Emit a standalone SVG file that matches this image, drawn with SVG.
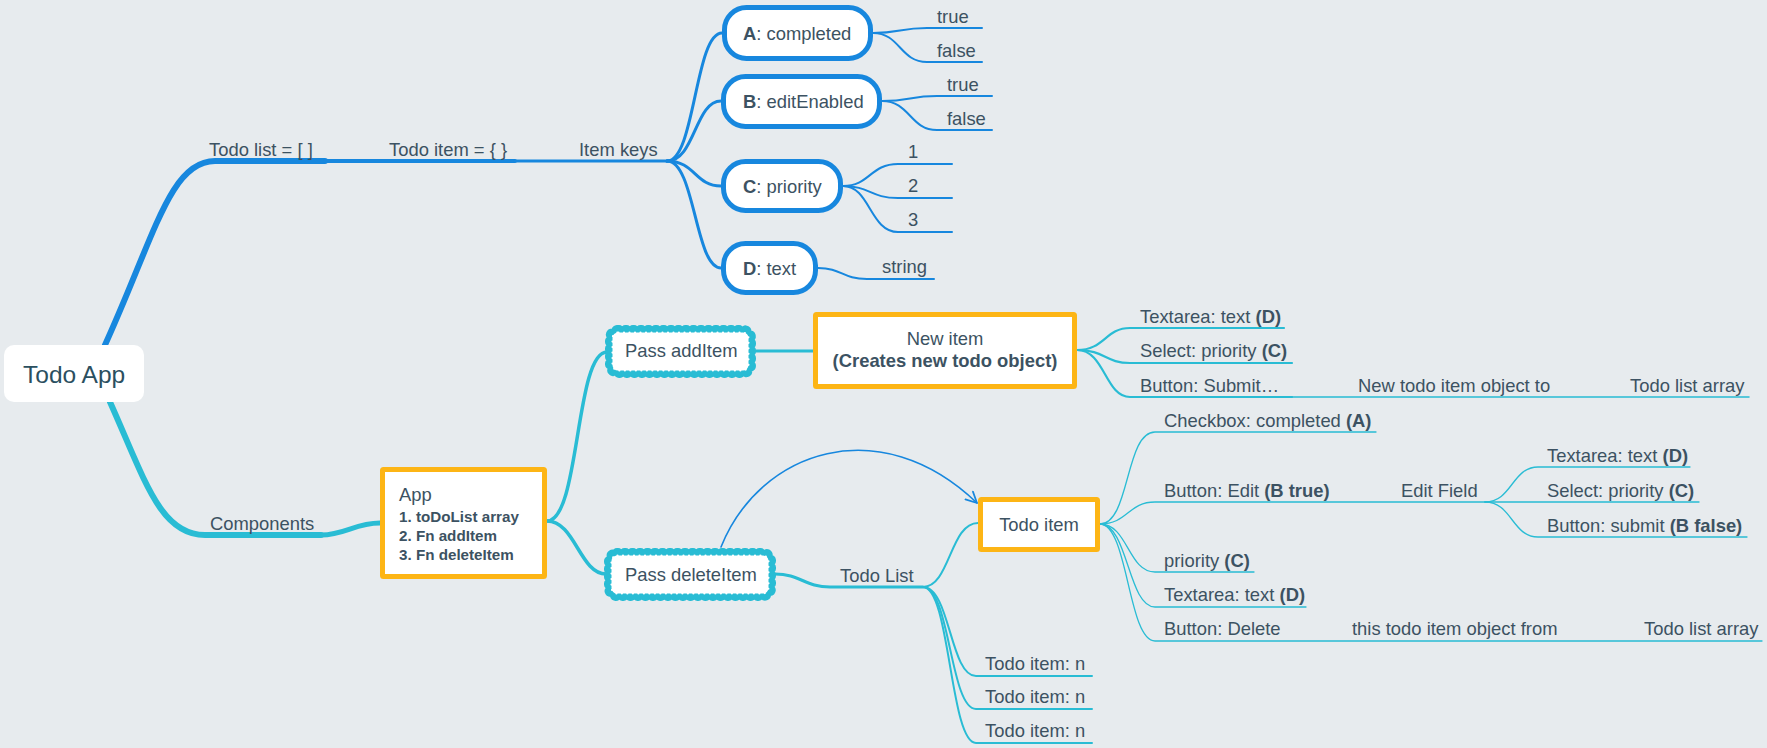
<svg xmlns="http://www.w3.org/2000/svg" width="1767" height="748" viewBox="0 0 1767 748">
<defs>
<style>
  text { font-family: "Liberation Sans", Arial, sans-serif; fill: #3c5262; font-size: 18.4px; }
  .b { font-weight: bold; }
  .root-label { font-size: 24.5px; fill: #2b4f5f; }
  .small { font-size: 15.2px; }
  .mid { text-anchor: middle; }
  .blue { fill: none; stroke: #1787de; stroke-linecap: round; }
  .teal { fill: none; stroke: #29bcd4; stroke-linecap: round; }
  .pill { fill: #ffffff; stroke: #1787de; stroke-width: 5; }
  .box { fill: #ffffff; stroke: #fdb515; stroke-width: 5; }
  .cloud-bump { fill: none; stroke: #29bcd4; stroke-width: 10; stroke-dasharray: 1 6.5; stroke-linecap: round; }
  .cloud { fill: #ffffff; stroke: #29bcd4; stroke-width: 5; }
  .cloud-nick { fill: none; stroke: #ffffff; stroke-width: 2.2; stroke-dasharray: 0 5.5; stroke-linecap: round; }
</style>
<marker id="open-arrow" viewBox="0 0 12 12" refX="11" refY="6" markerWidth="13" markerHeight="13" markerUnits="userSpaceOnUse" orient="auto">
  <path d="M1,1 L11,6 L1,11" fill="none" stroke="#1787de" stroke-width="1.6" stroke-linecap="round" stroke-linejoin="round"/>
</marker>
</defs>

<rect x="0" y="0" width="1767" height="748" fill="#e7ebee"/>

<g id="connectors">
  <!-- data model branch -->
  <path class="blue" stroke-width="6" d="M105,345 C155,235 170,161 215,161 L325,161"/>
  <path class="blue" stroke-width="4" d="M325,161 L515,161"/>
  <path class="blue" stroke-width="3" d="M515,161 L667,161"/>
  <path class="blue" stroke-width="3" d="M667,161 C695,161 695,33 722,33"/>
  <path class="blue" stroke-width="3" d="M667,161 C695,161 695,101 721,101"/>
  <path class="blue" stroke-width="3" d="M667,161 C695,161 695,186 721,186"/>
  <path class="blue" stroke-width="3" d="M667,161 C695,161 695,268 721,268"/>
  <path class="blue" stroke-width="2" d="M873,33 C900,33 900,28 927,28 L982,28"/>
  <path class="blue" stroke-width="2" d="M873,33 C900,33 900,62 927,62 L982,62"/>
  <path class="blue" stroke-width="2" d="M882,101 C910,101 910,96 937,96 L992,96"/>
  <path class="blue" stroke-width="2" d="M882,101 C910,101 910,130 937,130 L992,130"/>
  <path class="blue" stroke-width="2" d="M843,186 C870,186 870,164 898,164 L952,164"/>
  <path class="blue" stroke-width="2" d="M843,186 C870,186 870,198 898,198 L952,198"/>
  <path class="blue" stroke-width="2" d="M843,186 C870,186 870,232 898,232 L952,232"/>
  <path class="blue" stroke-width="2" d="M818,268 C842,268 842,279 867,279 L934,279"/>

  <!-- components branch -->
  <path class="teal" stroke-width="6" d="M110,402 C145,480 160,535 205,535 L321,535"/>
  <path class="teal" stroke-width="5" d="M321,535 C345,535 355,523 380,523"/>
  <path class="teal" stroke-width="3.5" d="M547,521 C580,521 575,352 607,352"/>
  <path class="teal" stroke-width="3.5" d="M547,521 C575,521 580,574 606,574"/>
  <path class="teal" stroke-width="3" d="M755,351 L813,351"/>
  <path class="teal" stroke-width="3" d="M775,574 C800,574 805,587 830,587 L923,587"/>
  <path class="teal" stroke-width="2" d="M923,587 C950,587 950,523 978,523"/>
  <path class="teal" stroke-width="2" d="M923,587 C950,587 950,676 976,676 L1092,676"/>
  <path class="teal" stroke-width="2" d="M923,587 C950,587 950,709 976,709 L1092,709"/>
  <path class="teal" stroke-width="2" d="M923,587 C950,587 950,743 976,743 L1092,743"/>

  <!-- new item fields -->
  <path class="teal" stroke-width="2.2" d="M1077,350 C1105,350 1105,328 1130,328 L1284,328"/>
  <path class="teal" stroke-width="2.2" d="M1077,350 C1105,350 1105,363 1130,363 L1292,363"/>
  <path class="teal" stroke-width="2.2" d="M1077,350 C1105,350 1105,397 1130,397 L1292,397"/>
  <path class="teal" stroke-width="1.5" d="M1292,397 L1749,397"/>

  <!-- todo item fields -->
  <path class="teal" stroke-width="1.3" d="M1100,524 C1130,524 1125,432 1155,432 L1376,432"/>
  <path class="teal" stroke-width="1.3" d="M1100,524 C1128,524 1128,502 1155,502 L1485,502"/>
  <path class="teal" stroke-width="1.3" d="M1100,524 C1128,524 1128,572 1155,572 L1254,572"/>
  <path class="teal" stroke-width="1.3" d="M1100,524 C1128,524 1128,607 1155,607 L1306,607"/>
  <path class="teal" stroke-width="1.3" d="M1100,524 C1128,524 1128,641 1155,641 L1762,641"/>
  <path class="teal" stroke-width="1.3" d="M1485,502 C1512,502 1512,467 1538,467 L1690,467"/>
  <path class="teal" stroke-width="1.3" d="M1485,502 L1699,502"/>
  <path class="teal" stroke-width="1.3" d="M1485,502 C1512,502 1512,537 1538,537 L1747,537"/>

  <!-- deleteItem is handed down to each todo item -->
  <path class="blue" stroke-width="1.6" d="M721,547 C760,450 880,410 977,503" marker-end="url(#open-arrow)"/>
</g>

<g id="root">
  <rect x="4" y="345" width="140" height="57" rx="10" fill="#ffffff"/>
  <text class="root-label" x="23" y="383">Todo App</text>
</g>

<g id="todo-list"><text x="209" y="156">Todo list = [ ]</text></g>
<g id="todo-item-object"><text x="389" y="156">Todo item = { }</text></g>
<g id="item-keys"><text x="579" y="156">Item keys</text></g>

<g id="key-a">
  <rect class="pill" x="724.5" y="7.5" width="146" height="51" rx="22"/>
  <text x="743" y="40"><tspan class="b">A</tspan>: completed</text>
</g>
<g id="key-a-true"><text x="937" y="23">true</text></g>
<g id="key-a-false"><text x="937" y="57">false</text></g>

<g id="key-b">
  <rect class="pill" x="723.5" y="76.5" width="156" height="50" rx="22"/>
  <text x="743" y="108"><tspan class="b">B</tspan>: editEnabled</text>
</g>
<g id="key-b-true"><text x="947" y="91">true</text></g>
<g id="key-b-false"><text x="947" y="125">false</text></g>

<g id="key-c">
  <rect class="pill" x="723.5" y="161.5" width="117" height="49" rx="22"/>
  <text x="743" y="193"><tspan class="b">C</tspan>: priority</text>
</g>
<g id="key-c-1"><text x="908" y="158">1</text></g>
<g id="key-c-2"><text x="908" y="192">2</text></g>
<g id="key-c-3"><text x="908" y="226">3</text></g>

<g id="key-d">
  <rect class="pill" x="723.5" y="243.5" width="92" height="49" rx="22"/>
  <text x="743" y="275"><tspan class="b">D</tspan>: text</text>
</g>
<g id="key-d-string"><text x="882" y="273">string</text></g>

<g id="components"><text x="210" y="530">Components</text></g>

<g id="app">
  <rect class="box" x="382.5" y="469.5" width="162" height="107" rx="1"/>
  <text x="399" y="501">App</text>
  <text class="b small" x="399" y="522">1. toDoList array</text>
  <text class="b small" x="399" y="541">2. Fn addItem</text>
  <text class="b small" x="399" y="560">3. Fn deleteItem</text>
</g>

<g id="pass-additem">
  <rect class="cloud-bump" x="610" y="330" width="141" height="43" rx="8"/>
  <rect class="cloud" x="610" y="330" width="141" height="43" rx="8"/>
  <rect class="cloud-nick" x="612.5" y="332.5" width="136" height="38" rx="6"/>
  <text x="625" y="357">Pass addItem</text>
</g>

<g id="pass-deleteitem">
  <rect class="cloud-bump" x="609" y="553" width="162" height="43" rx="8"/>
  <rect class="cloud" x="609" y="553" width="162" height="43" rx="8"/>
  <rect class="cloud-nick" x="611.5" y="555.5" width="157" height="38" rx="6"/>
  <text x="625" y="581">Pass deleteItem</text>
</g>

<g id="new-item">
  <rect class="box" x="815.5" y="314.5" width="259" height="72" rx="1"/>
  <text class="mid" x="945" y="345">New item</text>
  <text class="mid b" x="945" y="367">(Creates new todo object)</text>
</g>
<g id="new-textarea"><text x="1140" y="323">Textarea: text <tspan class="b">(D)</tspan></text></g>
<g id="new-select"><text x="1140" y="357">Select: priority <tspan class="b">(C)</tspan></text></g>
<g id="new-submit"><text x="1140" y="392">Button: Submit…</text></g>
<g id="new-object-to"><text x="1358" y="392">New todo item object to</text></g>
<g id="new-list-array"><text x="1630" y="392">Todo list array</text></g>

<g id="todo-list-component"><text x="840" y="582">Todo List</text></g>
<g id="todo-item-n1"><text x="985" y="670">Todo item: n</text></g>
<g id="todo-item-n2"><text x="985" y="703">Todo item: n</text></g>
<g id="todo-item-n3"><text x="985" y="737">Todo item: n</text></g>

<g id="todo-item">
  <rect class="box" x="980.5" y="499.5" width="117" height="50" rx="1"/>
  <text class="mid" x="1039" y="531">Todo item</text>
</g>
<g id="item-checkbox"><text x="1164" y="427">Checkbox: completed <tspan class="b">(A)</tspan></text></g>
<g id="item-edit"><text x="1164" y="497">Button: Edit <tspan class="b">(B true)</tspan></text></g>
<g id="edit-field"><text x="1401" y="497">Edit Field</text></g>
<g id="edit-textarea"><text x="1547" y="462">Textarea: text <tspan class="b">(D)</tspan></text></g>
<g id="edit-select"><text x="1547" y="497">Select: priority <tspan class="b">(C)</tspan></text></g>
<g id="edit-submit"><text x="1547" y="532">Button: submit <tspan class="b">(B false)</tspan></text></g>
<g id="item-priority"><text x="1164" y="567">priority <tspan class="b">(C)</tspan></text></g>
<g id="item-textarea"><text x="1164" y="601">Textarea: text <tspan class="b">(D)</tspan></text></g>
<g id="item-delete"><text x="1164" y="635">Button: Delete</text></g>
<g id="item-object-from"><text x="1352" y="635">this todo item object from</text></g>
<g id="item-list-array"><text x="1644" y="635">Todo list array</text></g>
</svg>
